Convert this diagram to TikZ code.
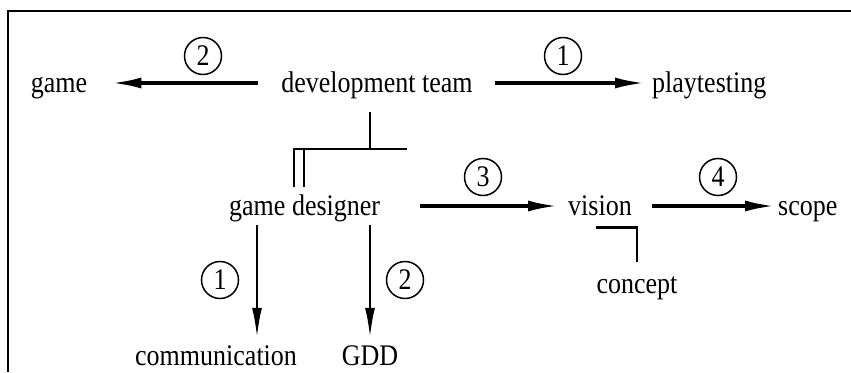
\documentclass[tikz,border=0pt]{standalone}
\usepackage{fontspec}
\usepackage{graphicx}
\setmainfont{Liberation Serif}
\usetikzlibrary{arrows.meta,calc}

% labels are set slightly tall
\newcommand{\tall}[1]{\scalebox{1}[1.15]{#1}}

\tikzset{
  label/.style={inner sep=0pt, text height=24pt, text depth=6pt,
                font=\fontsize{26}{30}\selectfont},
  num/.style={draw, circle, line width=1.5pt, minimum size=37pt, inner sep=0pt,
              font=\fontsize{26}{30}\selectfont},
  flow/.style={line width=3.4pt, -{Latex[length=30pt,width=11pt]}},
  drop/.style={line width=2.5pt, -{Latex[length=30pt,width=10pt]}},
  link/.style={line width=2.8pt},
  frame/.style={line width=2.4pt}
}

\begin{document}
\begin{tikzpicture}[x=1pt,y=-1pt]
\useasboundingbox (0,0) rectangle (851,372);

% open frame: top and left edges
\draw[frame] (851,11) -- (8,11) -- (8,372);

% terms
\node[label, anchor=base] (game) at (59,92) {\tall{game}};
\node[label, anchor=base] (dev) at (377,92) {\tall{development team}};
\node[label, anchor=base west] (play) at (652,92) {\tall{playtesting}};
\node[label, anchor=base west] (gd) at (229,215) {\tall{game designer}};
\node[label, anchor=base west] (vision) at (568,215) {\tall{vision}};
\node[label, anchor=base west] (scope) at (778,215) {\tall{scope}};
\node[label, anchor=base] (concept) at (637,293) {\tall{concept}};
\node[label, anchor=base west] (comm) at (135,365) {\tall{communication}};
\node[label, anchor=base] (gdd) at (370,365) {\tall{GDD}};

% step numbers
\node[num] (n2a) at (203,56) {\tall{2}};
\node[num] (n1a) at (563,56) {\tall{1}};
\node[num] (n3) at (483,177) {\tall{3}};
\node[num] (n4) at (718,177) {\tall{4}};
\node[num] (n1b) at (220,280) {\tall{1}};
\node[num] (n2b) at (405,280) {\tall{2}};

% top row
\draw[flow] ([xshift=-23pt]dev.west) -- ([xshift=24pt]game.east);
\draw[flow] ([xshift=22pt]dev.east) -- ([xshift=-7pt]play.west);

% development team feeds the game designer
\coordinate (stem) at ([xshift=-7pt,yshift=-14pt]dev.south);
\coordinate (busL) at (294,149);
\coordinate (busR) at (407,149);
\coordinate (busL2) at (304,149);
\draw[link] (stem) -- (stem |- busL);
\draw[link] (busR) -- (busL) -- ([yshift=4pt]busL |- gd.north);
\draw[link] (busL2) -- ([yshift=4pt]busL2 |- gd.north);

% second row
\draw[flow] ([xshift=40pt]gd.east) -- ([xshift=-10pt]vision.west);
\draw[flow] ([xshift=20pt]vision.east) -- ([xshift=-3pt]scope.west);

% vision rests on concept
\draw[link] ([xshift=28pt,yshift=-6pt]vision.south west) -| ([yshift=7pt]concept.north);

% game designer outputs
\coordinate (gdL) at ([xshift=28pt,yshift=-4pt]gd.south west);
\draw[drop, shorten >=3pt] (gdL) -- (gdL |- comm.north);
\coordinate (gdR) at ([yshift=-4pt]gd.south -| gdd.north);
\draw[drop, shorten >=3pt] (gdR) -- (gdd.north);
\end{tikzpicture}
\end{document}
